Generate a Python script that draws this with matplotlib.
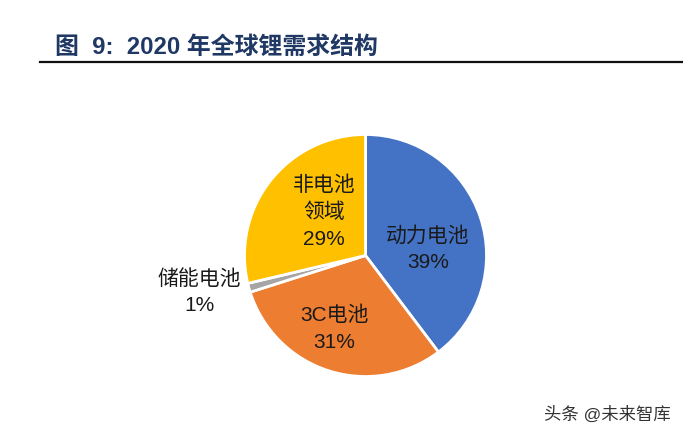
import matplotlib
matplotlib.use("Agg")
import matplotlib.pyplot as plt

plt.rcParams["font.family"] = ["Liberation Sans", "Noto Sans CJK SC", "DejaVu Sans"]

title = "图  9:  2020 年全球锂需求结构"
watermark = "头条 @未来智库"
labels = ["动力电池\n39%", "3C电池\n31%", "储能电池\n1%", "非电池\n领域\n29%"]
# slice sizes as drawn, they differ a little from the printed labels
shares = [39.7, 30.4, 1.2, 28.7]
colors = ["#4472C4", "#ED7D31", "#A5A5A5", "#FFC000"]
label_pos = [(428, 249), (334, 329), (199, 292), (324, 212)]

W, H = 683, 436
fig = plt.figure(figsize=(W / 100, H / 100), dpi=100)

# pie axes, square box in pixel coords
cx, cy, r = 365.5, 255.5, 121
ax = fig.add_axes([(cx - r) / W, 1 - (cy + r) / H, 2 * r / W, 2 * r / H])
ax.pie(shares, colors=colors, startangle=90, counterclock=False, radius=1,
       wedgeprops={"edgecolor": "white", "linewidth": 2})
ax.set_xlim(-1, 1)
ax.set_ylim(-1, 1)
ax.set_aspect("equal")

for text, (x, y) in zip(labels, label_pos):
    fig.text(x / W, 1 - y / H, text, ha="center", va="center", fontsize=15,
             color="#1a1a1a", linespacing=1.5)

fig.text(55 / W, 1 - 47.5 / H, title, ha="left", va="center", fontsize=17.2,
         fontweight="bold", color="#1F3864")
fig.add_artist(plt.Line2D([40 / W, 683 / W], [1 - 62 / H, 1 - 62 / H], color="#101010", linewidth=1.6))
fig.text(607 / W, 1 - 414 / H, watermark, ha="center", va="center", fontsize=12.5, color="#333333")

fig.savefig("out.png", dpi=100)
